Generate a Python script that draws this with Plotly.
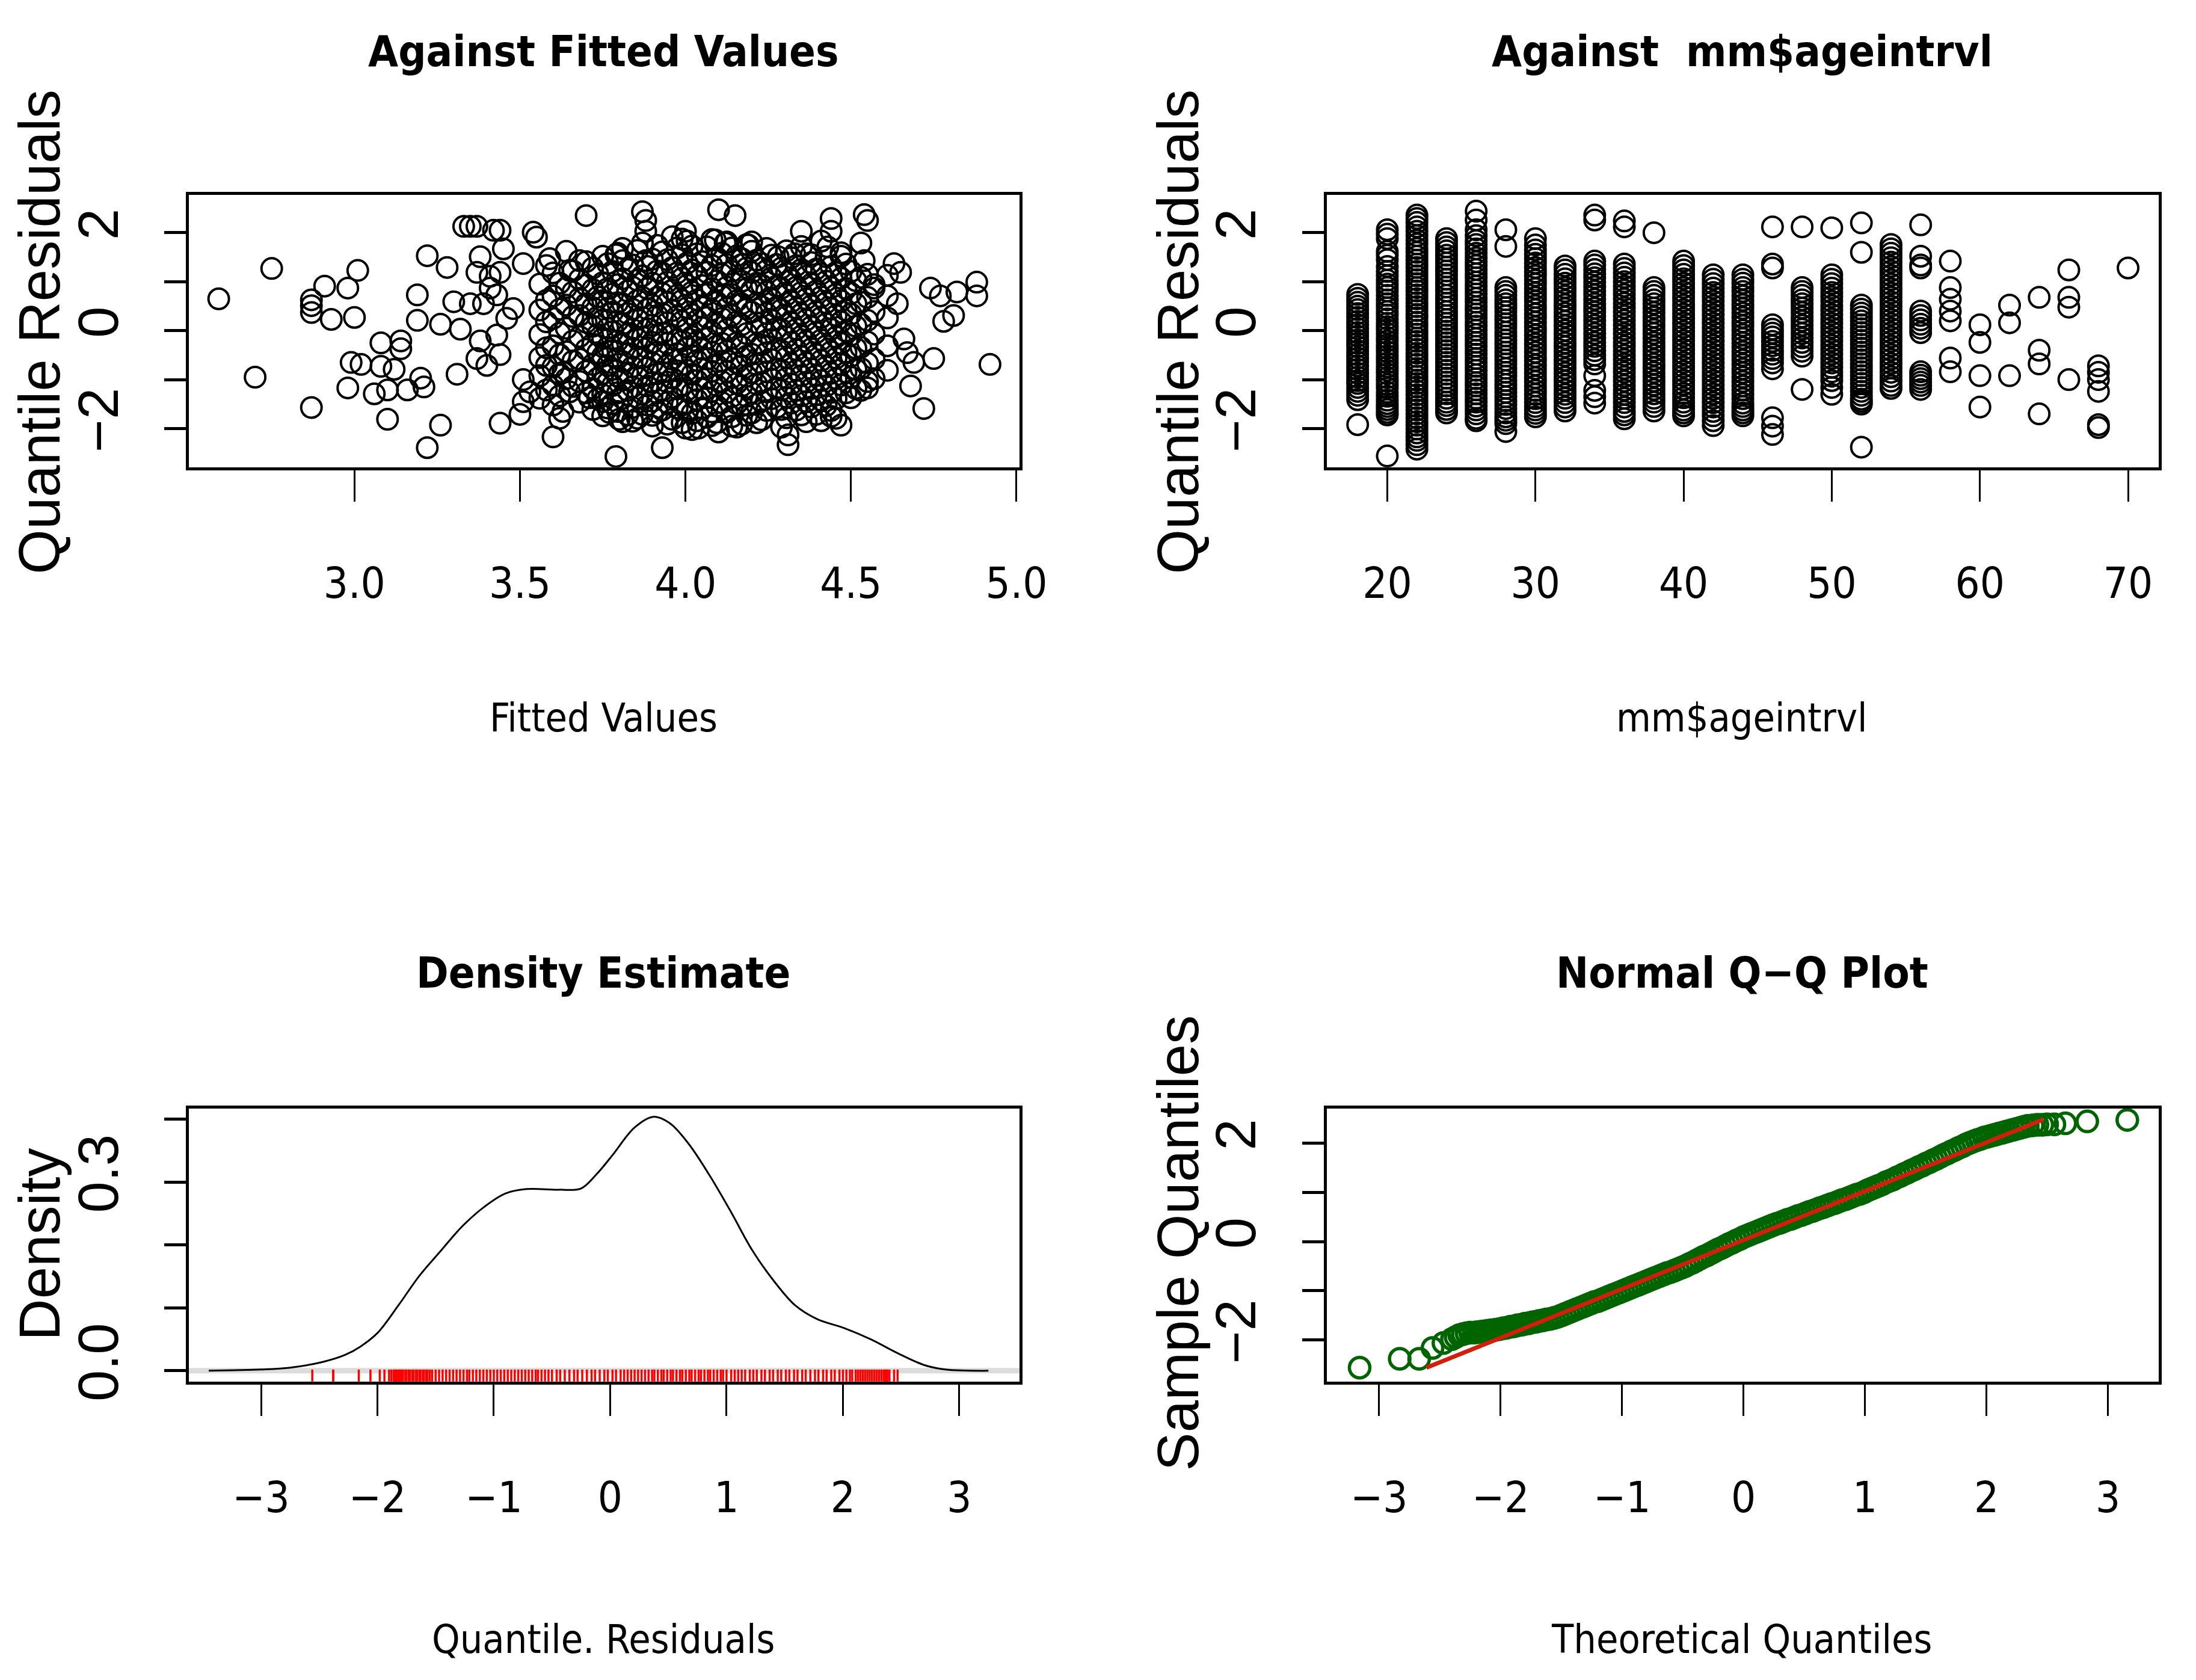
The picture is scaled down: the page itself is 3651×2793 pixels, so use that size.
import plotly.graph_objects as go

W, H = 3651, 2793

# ---- panel 1: residuals against fitted values (scattered outer points) ----
fitted_outer = [
    (2.59, 0.65), (2.75, 1.27), (2.70, -0.95), (2.87, 0.63), (2.87, 0.51), (2.87, 0.37),
    (2.91, 0.91), (2.93, 0.23), (2.98, 0.87), (3.01, 1.23), (3.00, 0.27), (2.87, -1.57),
    (3.19, 0.73), (3.19, 0.21), (3.22, 1.53), (3.28, 1.29), (3.26, 0.13), (3.30, 0.59),
    (3.32, 0.03), (3.35, 0.55), (3.33, 2.13), (3.35, 2.13), (3.37, 2.13), (3.42, 2.05),
    (3.44, 2.05), (3.38, 1.51), (3.45, 1.67), (3.55, 1.91), (3.54, 2.01), (3.70, 2.35),
    (3.51, 1.37), (3.59, 1.47), (3.68, 1.43), (3.65, 1.23), (3.37, 1.19), (3.41, 1.11),
    (3.44, 1.19), (3.41, 0.87), (3.43, 0.73), (3.39, 0.55), (2.99, -0.65), (3.02, -0.69),
    (3.08, -0.25), (3.14, -0.21), (3.14, -0.37), (3.08, -0.73), (3.12, -0.79), (2.98, -1.17),
    (3.06, -1.29), (3.10, -1.21), (3.16, -1.21), (3.20, -0.97), (3.21, -1.15), (3.10, -1.81),
    (3.31, -0.89), (3.26, -1.93), (3.22, -2.39), (3.37, -0.57), (3.40, -0.71), (3.44, -0.49),
    (3.44, -1.89), (3.50, -1.71), (3.51, -1.00), (3.53, -1.25), (3.63, -0.85), (3.65, -1.25),
    (3.63, -1.65), (3.60, -2.17), (3.51, -1.45), (3.71, -1.37), (3.75, -1.45), (3.43, -0.09),
    (3.38, -0.21), (3.46, 0.25), (3.48, 0.45),
    (3.87, 2.43), (3.88, 2.25), (3.88, 2.03), (4.10, 2.47), (4.15, 2.35), (4.00, 2.03),
    (3.99, 1.87), (4.09, 1.85), (4.12, 1.79), (4.20, 1.81), (4.19, 1.75), (3.88, 1.43),
    (3.79, 1.55), (3.81, 1.43), (4.17, 1.35), (4.35, 2.03), (4.44, 2.29), (4.44, 2.03),
    (4.54, 2.37), (4.55, 2.25), (4.53, 1.79), (4.54, 1.43), (4.28, 1.51), (4.33, 1.57),
    (4.38, 1.55), (4.43, 1.71), (4.47, 1.59), (4.63, 1.37), (4.65, 1.19), (4.57, 0.87),
    (4.61, 0.71), (4.64, 0.55), (4.74, 0.87), (4.77, 0.71), (4.78, 0.19), (4.81, 0.31),
    (4.82, 0.79), (4.88, 0.99), (4.88, 0.71), (4.75, -0.57), (4.92, -0.69), (4.68, -1.13),
    (4.72, -1.59), (4.67, -0.45), (4.69, -0.65), (4.66, -0.17), (4.55, -1.17), (4.47, -1.93),
    (4.44, -1.75), (4.31, -2.33), (4.31, -2.13), (3.79, -2.57), (3.93, -2.39), (4.00, -1.99),
    (4.04, -1.99), (4.10, -2.07), (4.14, -1.95), (3.80, -1.81), (3.84, -1.85), (3.90, -1.73),
    (3.77, -1.67),
]

# dense middle of panel 1, one list of residuals per fitted-value strip
blob_fitted = [3.56, 3.60, 3.64, 3.68, 3.72, 3.75, 3.78, 3.81, 3.84, 3.87, 3.90, 3.93,
               3.96, 3.99, 4.02, 4.05, 4.08, 4.11, 4.14, 4.17, 4.20, 4.23, 4.26, 4.29,
               4.32, 4.35, 4.38, 4.41, 4.44, 4.47, 4.50, 4.53, 4.57, 4.61]
blob_resid = [
    [0.95, 0.42, -0.08, -0.55, -0.92, -1.38],
    [1.18, 0.71, 0.25, -0.31, -0.74, -1.12, -1.52],
    [1.62, 0.88, 0.52, 0.05, -0.43, -0.98],
    [1.05, 0.66, 0.31, -0.12, -0.58, -1.04, -1.46],
    [1.28, 0.84, 0.47, 0.09, -0.27, -0.69, -1.18, -1.61],
    [1.52, 0.98, 0.61, 0.22, -0.16, -0.52, -0.88, -1.31, -1.74],
    [1.21, 0.75, 0.38, -0.02, -0.41, -0.79, -1.12, -1.49],
    [1.68, 1.06, 0.55, 0.14, -0.28, -0.63, -1.01, -1.38, -1.86],
    [1.34, 0.89, 0.44, 0.03, -0.36, -0.74, -1.15, -1.57],
    [1.79, 1.12, 0.68, 0.27, -0.13, -0.55, -0.93, -1.29, -1.71],
    [1.46, 0.97, 0.52, 0.11, -0.24, -0.66, -1.06, -1.44, -1.95],
    [1.61, 1.18, 0.76, 0.35, -0.05, -0.47, -0.85, -1.22, -1.62],
    [1.92, 1.29, 0.83, 0.41, -0.09, -0.58, -0.97, -1.36, -1.81],
    [1.55, 1.07, 0.62, 0.19, -0.21, -0.69, -1.11, -1.52, -1.88],
    [1.73, 1.24, 0.79, 0.33, -0.12, -0.51, -0.89, -1.27, -1.69, -2.02],
    [1.41, 0.92, 0.48, 0.06, -0.38, -0.77, -1.19, -1.58],
    [1.86, 1.33, 0.86, 0.42, -0.03, -0.44, -0.83, -1.24, -1.66, -1.94],
    [1.58, 1.15, 0.71, 0.25, -0.26, -0.62, -1.04, -1.47],
    [1.69, 1.21, 0.74, 0.31, -0.14, -0.57, -0.96, -1.35, -1.76],
    [1.47, 1.01, 0.55, 0.12, -0.33, -0.72, -1.13, -1.53, -1.91],
    [1.62, 1.19, 0.83, 0.38, -0.48, -0.86, -1.27, -1.68],
    [1.37, 0.93, 0.49, 0.07, -0.29, -0.66, -1.06, -1.44, -1.82],
    [1.54, 1.08, 0.64, 0.21, -0.18, -0.59, -0.99, -1.39],
    [1.28, 0.87, 0.43, 0.02, -0.41, -0.81, -1.21, -1.61, -1.97],
    [1.49, 1.03, 0.59, 0.16, -0.24, -0.68, -1.09, -1.48],
    [1.72, 1.25, 0.78, 0.34, -0.11, -0.53, -0.92, -1.33, -1.72],
    [1.39, 0.95, 0.51, 0.08, -0.37, -0.78, -1.18, -1.56],
    [1.83, 1.16, 0.69, 0.27, -0.19, -0.61, -1.02, -1.42, -1.84],
    [1.31, 0.88, 0.45, 0.03, -0.43, -0.87, -1.26, -1.63],
    [1.52, 1.07, 0.61, 0.18, -0.26, -0.69, -1.11],
    [1.21, 0.76, 0.34, -0.09, -0.52, -0.95, -1.37],
    [1.09, 0.58, 0.13, -0.34, -0.77, -1.22],
    [0.94, 0.39, -0.07, -0.58, -0.98],
    [1.13, 0.26, -0.31, -0.81],
]
blob_fitted_2 = [3.58, 3.62, 3.66, 3.70, 3.735, 3.765, 3.795, 3.825, 3.855, 3.885, 3.915,
                 3.945, 3.975, 4.005, 4.035, 4.065, 4.095, 4.125, 4.155, 4.185, 4.215,
                 4.245, 4.275, 4.305, 4.335, 4.365, 4.395, 4.425, 4.455, 4.485, 4.515, 4.55]
blob_resid_2 = [
    [1.33, 0.62, 0.18, -0.35, -0.71, -1.21],
    [0.97, 0.44, -0.05, -0.49, -0.88, -1.33, -1.79],
    [1.22, 0.79, 0.29, -0.21, -0.62, -1.14],
    [1.41, 0.93, 0.55, 0.17, -0.38, -0.83, -1.27],
    [1.16, 0.69, 0.28, -0.08, -0.45, -0.97, -1.39],
    [1.37, 0.86, 0.46, 0.05, -0.34, -0.71, -1.06, -1.58],
    [1.58, 0.94, 0.57, 0.19, -0.21, -0.57, -0.93, -1.27, -1.65],
    [1.25, 0.81, 0.35, -0.07, -0.47, -0.86, -1.22, -1.72],
    [1.64, 1.03, 0.62, 0.23, -0.17, -0.56, -0.95, -1.37, -1.79],
    [1.31, 0.86, 0.44, 0.04, -0.35, -0.76, -1.13, -1.52],
    [1.74, 1.22, 0.68, 0.31, -0.09, -0.44, -0.88, -1.27, -1.67],
    [1.45, 0.99, 0.57, 0.16, -0.26, -0.71, -1.05, -1.47, -1.91],
    [1.69, 1.18, 0.72, 0.29, -0.18, -0.47, -0.82, -1.19, -1.58],
    [1.83, 1.38, 0.93, 0.47, 0.04, -0.34, -0.81, -1.21, -1.63],
    [1.57, 1.12, 0.63, 0.21, -0.23, -0.61, -1.02, -1.41, -1.84],
    [1.71, 1.19, 0.74, 0.27, -0.16, -0.58, -0.98, -1.37, -1.77],
    [1.49, 1.02, 0.58, 0.13, -0.31, -0.71, -1.12, -1.54, -1.88],
    [1.81, 1.35, 0.89, 0.46, 0.02, -0.42, -0.84, -1.26, -1.67],
    [1.53, 1.06, 0.61, 0.18, -0.25, -0.66, -1.08, -1.49, -1.97],
    [1.76, 1.28, 0.86, 0.44, -0.06, -0.52, -0.93, -1.34, -1.73],
    [1.44, 0.97, 0.56, 0.16, -0.27, -0.69, -1.09, -1.51, -1.88],
    [1.68, 1.23, 0.79, 0.35, -0.06, -0.45, -0.84, -1.25, -1.63],
    [1.35, 0.91, 0.48, 0.05, -0.38, -0.78, -1.17, -1.57],
    [1.63, 1.17, 0.73, 0.29, -0.13, -0.55, -0.97, -1.36, -1.78],
    [1.33, 0.89, 0.46, 0.03, -0.39, -0.81, -1.22, -1.62],
    [1.57, 1.11, 0.65, 0.22, -0.22, -0.66, -1.05, -1.45, -1.86],
    [1.26, 0.81, 0.38, -0.04, -0.49, -0.92, -1.31, -1.71],
    [1.51, 1.01, 0.57, 0.14, -0.31, -0.74, -1.13, -1.53],
    [1.19, 0.74, 0.31, -0.13, -0.56, -0.98, -1.39, -1.79],
    [1.36, 0.86, 0.42, -0.01, -0.45, -0.85, -1.27],
    [1.02, 0.55, 0.09, -0.36, -0.79, -1.18],
    [1.15, 0.68, 0.21, -0.23, -0.66, -1.04],
]

# ---- panel 2: residuals against age interval ----
ages = [18, 20, 22, 24, 26, 28, 30, 32, 34, 36, 38, 40, 42, 44,
        46, 48, 50, 52, 54, 56, 58, 60, 62, 64, 66, 68, 70]
age_resid = [
    [0.74, 0.58, 0.43, 0.27, 0.12, -0.04, -0.19, -0.33, -0.49, -0.64, -0.79, -0.95, -1.08, -1.24, -1.41, -1.92],
    [2.06, 1.88, 1.62, 1.45, 1.31, 1.12, 0.95, 0.81, 0.63, 0.47, 0.32, 0.15, 0.02, -0.14, -0.29, -0.43,
     -0.58, -0.74, -0.88, -1.03, -1.17, -1.34, -1.49, -1.61, -1.72, -2.56],
    [2.36, 2.21, 2.03, 1.85, 1.68, 1.52, 1.36, 1.21, 1.04, 0.88, 0.73, 0.57, 0.41, 0.26, 0.09, -0.07,
     -0.22, -0.38, -0.53, -0.69, -0.84, -1.01, -1.15, -1.31, -1.47, -1.62, -1.78, -1.93, -2.09, -2.24, -2.42],
    [1.88, 1.71, 1.54, 1.38, 1.22, 1.05, 0.89, 0.72, 0.56, 0.39, 0.23, 0.07, -0.09, -0.25, -0.41, -0.57,
     -0.73, -0.89, -1.05, -1.21, -1.38, -1.53, -1.68],
    [2.44, 2.26, 2.06, 1.84, 1.67, 1.49, 1.33, 1.16, 0.99, 0.83, 0.66, 0.49, 0.34, 0.17, 0.01, -0.16,
     -0.32, -0.48, -0.65, -0.81, -0.98, -1.13, -1.29, -1.46, -1.62, -1.79, -1.84],
    [2.06, 1.72, 0.88, 0.72, 0.55, 0.39, 0.22, 0.06, -0.11, -0.27, -0.44, -0.60, -0.77, -0.93, -1.10,
     -1.26, -1.43, -1.59, -1.76, -1.90, -2.06],
    [1.88, 1.65, 1.47, 1.29, 1.12, 0.95, 0.77, 0.60, 0.43, 0.26, 0.08, -0.09, -0.27, -0.44, -0.61, -0.78,
     -0.96, -1.13, -1.30, -1.47, -1.62, -1.76],
    [1.32, 1.15, 0.97, 0.80, 0.62, 0.45, 0.28, 0.10, -0.07, -0.25, -0.42, -0.60, -0.77, -0.95, -1.12,
     -1.30, -1.47, -1.64],
    [2.36, 2.26, 1.42, 1.25, 1.08, 0.90, 0.73, 0.55, 0.38, 0.20, 0.03, -0.15, -0.32, -0.50, -0.68, -0.92,
     -1.22, -1.48],
    [2.24, 2.12, 1.36, 1.18, 1.00, 0.83, 0.65, 0.47, 0.30, 0.12, -0.06, -0.24, -0.41, -0.59, -0.77, -0.94,
     -1.12, -1.30, -1.47, -1.65, -1.80],
    [2.00, 0.88, 0.72, 0.55, 0.37, 0.20, 0.02, -0.15, -0.33, -0.50, -0.68, -0.85, -1.03, -1.20, -1.38,
     -1.55, -1.64],
    [1.42, 1.24, 1.06, 0.88, 0.70, 0.52, 0.34, 0.16, -0.02, -0.20, -0.38, -0.56, -0.74, -0.92, -1.10,
     -1.28, -1.46, -1.62, -1.74],
    [1.14, 0.96, 0.78, 0.60, 0.42, 0.24, 0.06, -0.12, -0.30, -0.48, -0.66, -0.84, -1.02, -1.20, -1.38,
     -1.56, -1.74, -1.94],
    [1.14, 0.97, 0.80, 0.62, 0.45, 0.27, 0.10, -0.08, -0.25, -0.43, -0.60, -0.78, -0.95, -1.13, -1.30,
     -1.48, -1.62, -1.74],
    [2.12, 1.36, 1.28, 0.12, -0.05, -0.22, -0.40, -0.57, -0.78, -1.78, -1.95, -2.12],
    [2.12, 0.88, 0.72, 0.55, 0.37, 0.20, 0.03, -0.15, -0.33, -0.52, -1.20],
    [2.10, 1.14, 0.96, 0.78, 0.60, 0.42, 0.24, 0.06, -0.12, -0.30, -0.48, -0.66, -0.84, -1.02, -1.30],
    [2.20, 1.60, 0.52, 0.36, 0.20, 0.04, -0.12, -0.28, -0.44, -0.60, -0.76, -0.92, -1.08, -1.24, -1.40,
     -1.50, -2.38],
    [1.76, 1.58, 1.40, 1.22, 1.04, 0.86, 0.68, 0.50, 0.32, 0.14, -0.04, -0.22, -0.40, -0.58, -0.76,
     -0.94, -1.12, -1.18],
    [2.16, 1.52, 1.34, 1.28, 0.40, 0.22, 0.05, -0.04, -0.84, -0.98, -1.12, -1.20],
    [1.42, 0.88, 0.64, 0.40, 0.20, -0.56, -0.84],
    [0.12, -0.24, -0.92, -1.56],
    [0.52, 0.16, -0.92],
    [0.68, -0.40, -0.68, -1.70],
    [1.24, 0.68, 0.48, -1.00],
    [-0.72, -0.85, -1.00, -1.24, -1.92, -1.98],
    [1.28],
]
# more points in the crowded age columns
ages_more = [18, 20, 22, 24, 26, 28, 30, 32, 34, 36, 38, 40, 42, 44, 46, 48, 50, 52, 54, 56]
age_resid_more = [
    [0.66, 0.50, 0.35, 0.19, 0.04, -0.11, -0.26, -0.41, -0.56, -0.72, -0.87, -1.02, -1.16, -1.32],
    [1.97, 1.54, 1.21, 1.03, 0.88, 0.72, 0.55, 0.39, 0.24, 0.08, -0.06, -0.21, -0.36, -0.51, -0.66,
     -0.81, -0.96, -1.10, -1.26, -1.42, -1.55, -1.67],
    [2.29, 2.12, 1.94, 1.77, 1.60, 1.44, 1.29, 1.12, 0.96, 0.81, 0.65, 0.49, 0.33, 0.17, 0.01, -0.15,
     -0.30, -0.46, -0.61, -0.77, -0.93, -1.08, -1.23, -1.39, -1.55, -1.70, -1.86, -2.01, -2.17, -2.33],
    [1.80, 1.63, 1.46, 1.30, 1.14, 0.97, 0.81, 0.64, 0.48, 0.31, 0.15, -0.01, -0.17, -0.33, -0.49,
     -0.65, -0.81, -0.97, -1.13, -1.29, -1.46, -1.61],
    [1.94, 1.76, 1.58, 1.41, 1.25, 1.08, 0.91, 0.75, 0.58, 0.42, 0.26, 0.09, -0.08, -0.24, -0.40,
     -0.57, -0.73, -0.90, -1.06, -1.21, -1.38, -1.54, -1.70],
    [0.80, 0.63, 0.47, 0.30, 0.14, -0.03, -0.19, -0.35, -0.52, -0.68, -0.85, -1.02, -1.18, -1.35,
     -1.51, -1.68, -1.83],
    [1.75, 1.56, 1.38, 1.20, 1.03, 0.86, 0.68, 0.51, 0.34, 0.17, 0.00, -0.18, -0.35, -0.53, -0.70,
     -0.87, -1.04, -1.22, -1.39, -1.55, -1.69],
    [1.24, 1.06, 0.88, 0.71, 0.53, 0.36, 0.19, 0.01, -0.16, -0.33, -0.51, -0.68, -0.86, -1.03, -1.21,
     -1.38, -1.56],
    [1.34, 1.16, 0.99, 0.81, 0.64, 0.46, 0.29, 0.11, -0.06, -0.24, -0.41, -0.59, -1.35],
    [1.27, 1.09, 0.91, 0.74, 0.56, 0.38, 0.21, 0.03, -0.15, -0.32, -0.50, -0.68, -0.85, -1.03, -1.21,
     -1.38, -1.56, -1.72],
    [0.80, 0.63, 0.46, 0.28, 0.11, -0.06, -0.24, -0.41, -0.59, -0.76, -0.94, -1.11, -1.29, -1.46],
    [1.33, 1.15, 0.97, 0.79, 0.61, 0.43, 0.25, 0.07, -0.11, -0.29, -0.47, -0.65, -0.83, -1.01, -1.19,
     -1.37, -1.54, -1.68],
    [1.05, 0.87, 0.69, 0.51, 0.33, 0.15, -0.03, -0.21, -0.39, -0.57, -0.75, -0.93, -1.11, -1.29, -1.47,
     -1.65, -1.84],
    [1.05, 0.88, 0.71, 0.53, 0.36, 0.18, 0.01, -0.16, -0.34, -0.51, -0.69, -0.86, -1.04, -1.21, -1.39,
     -1.55, -1.68],
    [0.03, -0.13, -0.31, -0.48, -0.66],
    [0.80, 0.63, 0.46, 0.28, 0.11, -0.06, -0.24, -0.42],
    [1.05, 0.87, 0.69, 0.51, 0.33, 0.15, -0.03, -0.21, -0.39, -0.57, -0.75, -0.93, -1.16],
    [0.44, 0.28, 0.12, -0.04, -0.20, -0.36, -0.52, -0.68, -0.84, -1.00, -1.16, -1.32, -1.45],
    [1.67, 1.49, 1.31, 1.13, 0.95, 0.77, 0.59, 0.41, 0.23, 0.05, -0.13, -0.31, -0.49, -0.67, -0.85, -1.03],
    [0.31, 0.13, -0.91, -1.05],
]

# ---- panel 3: density estimate of the residuals ----
dens_x = [-3.45, -3.0, -2.75, -2.47, -2.28, -2.15, -2.0, -1.82, -1.64, -1.45, -1.27, -1.08,
          -0.90, -0.72, -0.44, -0.25, -0.12, 0.02, 0.21, 0.37, 0.51, 0.67, 0.85, 1.04,
          1.22, 1.41, 1.59, 1.78, 2.01, 2.24, 2.47, 2.70, 2.88, 3.25]
dens_y = [0.0, 0.002, 0.005, 0.014, 0.025, 0.038, 0.060, 0.104, 0.151, 0.192, 0.230, 0.261,
          0.282, 0.289, 0.288, 0.290, 0.312, 0.343, 0.387, 0.404, 0.394, 0.362, 0.312, 0.252,
          0.192, 0.142, 0.104, 0.082, 0.068, 0.050, 0.028, 0.009, 0.002, 0.0]

# ---- panel 4: normal Q-Q plot (sample values also form the rug of panel 3) ----
qq_theoretical = [
    -3.16, -2.83, -2.67, -2.56, -2.47, -2.40, -2.37,
    -2.34, -2.31, -2.28, -2.25, -2.22, -2.19, -2.16, -2.13, -2.10, -2.07, -2.04, -2.01, -1.98,
    -1.95, -1.92, -1.89, -1.86, -1.83, -1.80, -1.77, -1.74, -1.71, -1.68, -1.65, -1.62, -1.59,
    -1.56, -1.53, -1.50, -1.47, -1.44, -1.41, -1.38, -1.35, -1.32, -1.29, -1.26, -1.23, -1.20,
    -1.17, -1.14, -1.11, -1.08, -1.05, -1.02, -0.99, -0.96, -0.93, -0.90, -0.87, -0.84, -0.81,
    -0.78, -0.75, -0.72, -0.69, -0.66, -0.63, -0.60, -0.57, -0.54, -0.51, -0.48, -0.45, -0.42,
    -0.39, -0.36, -0.33, -0.30, -0.27, -0.24, -0.21, -0.18, -0.15, -0.12, -0.09, -0.06, -0.03,
    0.00, 0.03, 0.06, 0.09, 0.12, 0.15, 0.18, 0.21, 0.24, 0.27, 0.30, 0.33, 0.36, 0.39,
    0.42, 0.45, 0.48, 0.51, 0.54, 0.57, 0.60, 0.63, 0.66, 0.69, 0.72, 0.75, 0.78, 0.81,
    0.84, 0.87, 0.90, 0.93, 0.96, 0.99, 1.02, 1.05, 1.08, 1.11, 1.14, 1.17, 1.20, 1.23,
    1.26, 1.29, 1.32, 1.35, 1.38, 1.41, 1.44, 1.47, 1.50, 1.53, 1.56, 1.59, 1.62, 1.65,
    1.68, 1.71, 1.74, 1.77, 1.80, 1.83, 1.86, 1.89, 1.92, 1.95, 1.98, 2.01, 2.04, 2.07,
    2.10, 2.13, 2.16, 2.19, 2.22, 2.25, 2.28, 2.31, 2.34,
    2.38, 2.42, 2.46, 2.50, 2.56, 2.65, 2.83, 3.16,
]
qq_sample = [
    -2.56, -2.38, -2.38, -2.16, -2.06, -1.98, -1.94,
    -1.90, -1.88, -1.86, -1.85, -1.85, -1.84, -1.83, -1.82, -1.81, -1.80, -1.79, -1.78, -1.76,
    -1.75, -1.73, -1.72, -1.70, -1.69, -1.67, -1.66, -1.64, -1.63, -1.61, -1.60, -1.58, -1.57,
    -1.55, -1.53, -1.50, -1.47, -1.44, -1.41, -1.38, -1.35, -1.32, -1.29, -1.26, -1.23, -1.21,
    -1.18, -1.15, -1.12, -1.09, -1.06, -1.03, -1.00, -0.97, -0.94, -0.91, -0.88, -0.85, -0.82,
    -0.79, -0.76, -0.73, -0.70, -0.67, -0.64, -0.62, -0.59, -0.56, -0.53, -0.50, -0.46, -0.43,
    -0.39, -0.35, -0.31, -0.28, -0.24, -0.20, -0.16, -0.13, -0.09, -0.05, -0.02, 0.02, 0.05,
    0.09, 0.12, 0.15, 0.18, 0.21, 0.24, 0.27, 0.30, 0.33, 0.36, 0.38, 0.41, 0.44, 0.46,
    0.49, 0.52, 0.54, 0.57, 0.60, 0.62, 0.65, 0.68, 0.70, 0.73, 0.76, 0.78, 0.81, 0.84,
    0.86, 0.89, 0.92, 0.95, 0.97, 1.00, 1.04, 1.07, 1.10, 1.13, 1.16, 1.20, 1.23, 1.26,
    1.30, 1.33, 1.37, 1.40, 1.44, 1.47, 1.51, 1.54, 1.58, 1.61, 1.65, 1.68, 1.72, 1.76,
    1.79, 1.83, 1.86, 1.90, 1.93, 1.97, 2.00, 2.03, 2.06, 2.08, 2.11, 2.13, 2.15, 2.17,
    2.19, 2.21, 2.23, 2.25, 2.27, 2.29, 2.31, 2.33, 2.35,
    2.36, 2.37, 2.37, 2.38, 2.38, 2.40, 2.44, 2.47,
]
qq_line_x = [-2.61, 2.47]
qq_line_y = [-2.56, 2.48]

NARROW = "DejaVu Sans Condensed, Liberation Sans Narrow, Liberation Sans, Arial"
REGULAR = "Liberation Sans, Arial, Helvetica, sans-serif"


def px_x(p):
    return p / W


def px_y(p):
    return 1 - p / H


fig = go.Figure()

ring = dict(symbol="circle-open", size=34, color="black", line=dict(width=4, color="black"))

fx = [p[0] for p in fitted_outer]
fy = [p[1] for p in fitted_outer]
for xs, cols in ((blob_fitted, blob_resid), (blob_fitted_2, blob_resid_2)):
    for xv, col in zip(xs, cols):
        fx += [xv] * len(col)
        fy += col
fig.add_trace(go.Scatter(x=fx, y=fy, mode="markers", marker=ring, xaxis="x", yaxis="y"))

ax, ay = [], []
for xs, cols in ((ages, age_resid), (ages_more, age_resid_more)):
    for a, col in zip(xs, cols):
        ax += [a] * len(col)
        ay += col
fig.add_trace(go.Scatter(x=ax, y=ay, mode="markers", marker=ring, xaxis="x2", yaxis="y2"))

# density panel: zero line, curve, rug
fig.add_shape(type="line", xref="x3 domain", yref="y3", x0=0, x1=1, y0=0, y1=0,
              line=dict(color="#dcdcdc", width=9), layer="below")
fig.add_trace(go.Scatter(x=dens_x, y=dens_y, mode="lines", line=dict(color="black", width=3, shape="spline"),
                         xaxis="x3", yaxis="y3"))
fig.add_trace(go.Scatter(x=qq_sample, y=[-0.0095] * len(qq_sample), mode="markers",
                         marker=dict(symbol="line-ns", size=17, line=dict(color="red", width=3.5)),
                         xaxis="x3", yaxis="y3"))

# Q-Q panel
fig.add_trace(go.Scatter(x=qq_theoretical, y=qq_sample, mode="markers",
                         marker=dict(symbol="circle-open", size=34, color="#006400",
                                     line=dict(width=5.5, color="#006400")),
                         xaxis="x4", yaxis="y4"))
fig.add_trace(go.Scatter(x=qq_line_x, y=qq_line_y, mode="lines", line=dict(color="#d0200c", width=7),
                         xaxis="x4", yaxis="y4"))

left_dom = [px_x(310), px_x(1709)]
right_dom = [px_x(2226), px_x(3627)]
top_dom = [px_y(778), px_y(320)]
bot_dom = [px_y(2316), px_y(1857)]


def xax(dom, rng, vals, text, anchor):
    return dict(domain=dom, range=rng, tickvals=vals, ticktext=text, anchor=anchor,
                ticks="outside", ticklen=52, tickwidth=3, tickcolor="black",
                showline=True, mirror=True, linewidth=5, linecolor="black",
                showgrid=False, zeroline=False, ticklabelstandoff=74,
                tickfont=dict(family=NARROW, size=72, color="black"))


def yax(dom, rng, vals, text, anchor):
    return dict(domain=dom, range=rng, tickvals=vals, ticktext=text, anchor=anchor,
                ticks="outside", ticklen=36, tickwidth=5, tickcolor="black", tickangle=-90,
                showline=True, mirror=True, linewidth=5, linecolor="black",
                showgrid=False, zeroline=False, ticklabelstandoff=40,
                tickfont=dict(family=REGULAR, size=94, color="black"))


fig.update_layout(
    width=W, height=H, autosize=False, showlegend=False,
    margin=dict(l=0, r=0, t=0, b=0),
    paper_bgcolor="white", plot_bgcolor="white",
    xaxis=xax(left_dom, [2.5, 5.01], [3.0, 3.5, 4.0, 4.5, 5.0], ["3.0", "3.5", "4.0", "4.5", "5.0"], "y"),
    yaxis=yax(top_dom, [-2.79, 2.77], [-2, -1, 0, 1, 2], ["\u22122", "", "0", "", "2"], "x"),
    xaxis2=xax(right_dom, [15.92, 72.08], [20, 30, 40, 50, 60, 70], ["20", "30", "40", "50", "60", "70"], "y2"),
    yaxis2=yax(top_dom, [-2.79, 2.77], [-2, -1, 0, 1, 2], ["\u22122", "", "0", "", "2"], "x2"),
    xaxis3=xax(left_dom, [-3.62, 3.52], [-3, -2, -1, 0, 1, 2, 3],
               ["\u22123", "\u22122", "\u22121", "0", "1", "2", "3"], "y3"),
    yaxis3=yax(bot_dom, [-0.017, 0.417], [0.0, 0.1, 0.2, 0.3, 0.4], ["0.0", "", "", "0.3", ""], "x3"),
    xaxis4=xax(right_dom, [-3.43, 3.42], [-3, -2, -1, 0, 1, 2, 3],
               ["\u22123", "\u22122", "\u22121", "0", "1", "2", "3"], "y4"),
    yaxis4=yax(bot_dom, [-2.84, 2.70], [-2, -1, 0, 1, 2], ["\u22122", "", "0", "", "2"], "x4"),
)

titles = [
    (1008, 78, "Against Fitted Values"),
    (2925, 78, "Against\u00a0 mm$ageintrvl"),
    (1008, 1628, "Density Estimate"),
    (2925, 1628, "Normal Q\u2212Q Plot"),
]
for x, y, t in titles:
    fig.add_annotation(x=px_x(x), y=px_y(y), xref="paper", yref="paper", text="<b>" + t + "</b>",
                       showarrow=False, xanchor="center", yanchor="middle",
                       font=dict(family=NARROW, size=72, color="black"))

xtitles = [
    (1008, 1200, "Fitted Values"),
    (2925, 1200, "mm$ageintrvl"),
    (1008, 2750, "Quantile. Residuals"),
    (2925, 2750, "Theoretical Quantiles"),
]
for x, y, t in xtitles:
    fig.add_annotation(x=px_x(x), y=px_y(y), xref="paper", yref="paper", text=t,
                       showarrow=False, xanchor="center", yanchor="middle",
                       font=dict(family=NARROW, size=66, color="black"))

ytitles = [
    (58, 550, "Quantile Residuals"),
    (1975, 550, "Quantile Residuals"),
    (58, 2085, "Density"),
    (1975, 2083, "Sample Quantiles"),
]
for x, y, t in ytitles:
    fig.add_annotation(x=px_x(x), y=px_y(y), xref="paper", yref="paper", text=t, textangle=-90,
                       showarrow=False, xanchor="center", yanchor="middle",
                       font=dict(family=REGULAR, size=96, color="black"))

fig.write_html("out.html")
